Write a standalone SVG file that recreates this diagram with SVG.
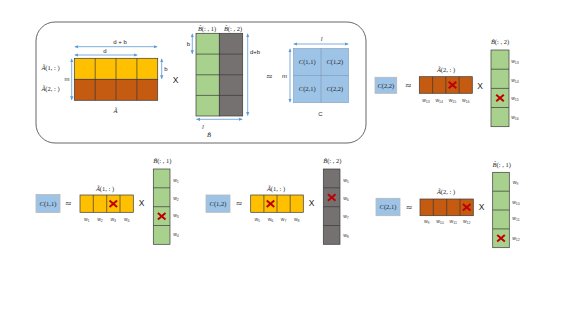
<svg xmlns="http://www.w3.org/2000/svg" width="563" height="317" viewBox="0 0 563 317">
<style>
.bg{fill:#ffffff}
.panel{fill:none;stroke:#404040;stroke-width:0.8}
.y{fill:#FFC000;stroke:#3a3a3a;stroke-width:0.7}
.o{fill:#C55A11;stroke:#3a3a3a;stroke-width:0.7}
.g{fill:#A9D18E;stroke:#3a3a3a;stroke-width:0.7}
.k{fill:#767171;stroke:#3a3a3a;stroke-width:0.7}
.c{fill:#9DC3E6;stroke:#8aa0b8;stroke-width:0.6}
.cb{fill:#9DC3E6;stroke:#b8b8b8;stroke-width:0.8}
.ln{stroke:#3a3a3a;stroke-width:0.7;fill:none}
.lnc{stroke:#7f95ad;stroke-width:0.6;fill:none}
.dim{stroke:#5B9BD5;stroke-width:0.8;fill:none;marker-start:url(#ah);marker-end:url(#ah)}
.s{font-family:"Liberation Sans",Arial,sans-serif;font-size:6px;fill:#262626;text-anchor:middle}
.m{font-family:"Liberation Serif","Times New Roman",serif;font-size:6.5px;fill:#262626;text-anchor:middle}
.mi{font-style:italic}
.w{font-family:"Liberation Sans",Arial,sans-serif;font-size:5px;fill:#404040;text-anchor:middle}
.ws{font-size:3.6px}
.op{font-family:"Liberation Sans",Arial,sans-serif;font-size:8.5px;fill:#262626;text-anchor:middle}
.ap{font-family:"DejaVu Sans",sans-serif;font-size:8px;fill:#262626;text-anchor:middle}
.x{stroke:#C00000;stroke-width:2;fill:none;stroke-linecap:butt}
</style>
<defs>
<marker id="ah" viewBox="0 0 6 6" refX="5.5" refY="3" markerWidth="4" markerHeight="4" orient="auto-start-reverse" markerUnits="userSpaceOnUse">
<path d="M0,0.5 L6,3 L0,5.5 z" fill="#5B9BD5"/>
</marker>
<path id="cross" class="x" d="M-3.8,-3.3 L3.8,3.3 M-3.8,3.3 L3.8,-3.3"/>
</defs>
<rect class="bg" x="0" y="0" width="563" height="317"/>

<g id="panel">
<rect class="panel" x="36" y="22" width="330" height="121" rx="19" ry="19"/>
</g>

<g id="matrixA">
<rect class="y" x="74.3" y="58.3" width="83.4" height="21"/>
<rect class="o" x="74.3" y="79.3" width="83.4" height="21"/>
<path class="ln" d="M95.2,58.3V100.3M116,58.3V100.3M136.9,58.3V100.3"/>
<text class="m" x="50.5" y="70"><tspan class="mi">Ã</tspan>(1, : )</text>
<text class="m" x="50.5" y="90.5"><tspan class="mi">Ã</tspan>(2, : )</text>
<text class="s" x="67" y="81">m</text>
<text class="s" x="120" y="43.5">d + b</text>
<text class="s" x="105" y="52.5">d</text>
<text class="s" x="166" y="71">b</text>
<text class="m" x="115.5" y="113" font-size="7.5"><tspan class="mi">Ã</tspan></text>
</g>

<g id="opX1"><text class="op" x="175.7" y="83.3">X</text></g>

<g id="matrixB">
<rect class="g" x="196" y="33.3" width="23.3" height="82.7"/>
<rect class="k" x="219.3" y="33.3" width="23.4" height="82.7"/>
<path class="ln" d="M196,54.1H242.7M196,74.8H242.7M196,95.4H242.7"/>
<text class="m" x="207" y="30.5"><tspan class="mi">B̃</tspan>(: , 1)</text>
<text class="m" x="233" y="30.5"><tspan class="mi">B̃</tspan>(: , 2)</text>
<text class="s" x="188.5" y="46">b</text>
<text class="s" x="255" y="54">d+b</text>
<text class="m" x="203" y="128.5"><tspan class="mi">l</tspan></text>
<text class="m" x="209" y="137" font-size="7.5"><tspan class="mi">B̃</tspan></text>
</g>

<g id="opApprox"><text class="ap" x="269.3" y="78.5" font-size="11">≈</text></g>

<g id="matrixC">
<rect class="c" x="293.3" y="48.3" width="55.4" height="54.4"/>
<path class="lnc" d="M321,48.3V102.7M293.3,75.5H348.7"/>
<text class="m" x="307.2" y="64.2"><tspan class="mi">C</tspan>(1,1)</text>
<text class="m" x="334.9" y="64.2"><tspan class="mi">C</tspan>(1,2)</text>
<text class="m" x="307.2" y="91.3"><tspan class="mi">C</tspan>(2,1)</text>
<text class="m" x="334.9" y="91.3"><tspan class="mi">C</tspan>(2,2)</text>
<text class="s" x="284.5" y="78">m</text>
<text class="m" x="321.7" y="40.5"><tspan class="mi">l</tspan></text>
<text class="s" x="320.5" y="116" font-size="7.5">C</text>
</g>

<!-- C(2,2) panel -->
<g id="eqC22">
<rect class="cb" x="375" y="77.3" width="21.7" height="16"/>
<text class="m" x="385.8" y="87.7" font-size="6"><tspan class="mi">C</tspan>(2,2)</text>
<text class="ap" x="408.3" y="88.3">≈</text>
<rect class="o" x="419.3" y="76.7" width="53" height="16.6"/>
<path class="ln" d="M432.6,76.7V93.3M445.8,76.7V93.3M459.1,76.7V93.3"/>
<use href="#cross" x="452.5" y="85"/>
<text class="m" x="446" y="71.5" font-size="6"><tspan class="mi">Ã</tspan>(2, : )</text>
<text class="w" x="426" y="102">w<tspan class="ws" dy="1">13</tspan></text>
<text class="w" x="439.2" y="102">w<tspan class="ws" dy="1">14</tspan></text>
<text class="w" x="452.5" y="102">w<tspan class="ws" dy="1">15</tspan></text>
<text class="w" x="465.8" y="102">w<tspan class="ws" dy="1">16</tspan></text>
<text class="op" x="480" y="88.5">X</text>
<rect class="g" x="491" y="50" width="18" height="76.7"/>
<path class="ln" d="M491,69.2H509M491,88.4H509M491,107.5H509"/>
<use href="#cross" x="500" y="98"/>
<text class="m" x="500" y="44" font-size="6"><tspan class="mi">B̃</tspan>(: , 2)</text>
<text class="w" x="515" y="62.5">w<tspan class="ws" dy="1">13</tspan></text>
<text class="w" x="515" y="81.5">w<tspan class="ws" dy="1">14</tspan></text>
<text class="w" x="515" y="99.5">w<tspan class="ws" dy="1">15</tspan></text>
<text class="w" x="515" y="118.5">w<tspan class="ws" dy="1">16</tspan></text>
</g>

<!-- C(1,1) panel -->
<g id="eqC11">
<rect class="cb" x="36" y="194.5" width="24" height="18"/>
<text class="m" x="48" y="205.5" font-size="6"><tspan class="mi">C</tspan>(1,1)</text>
<text class="ap" x="68.3" y="206">≈</text>
<rect class="y" x="80" y="195" width="53.3" height="17.3"/>
<path class="ln" d="M93.3,195V212.3M106.7,195V212.3M120,195V212.3"/>
<use href="#cross" x="113.3" y="203.7"/>
<text class="m" x="105" y="190.5" font-size="6"><tspan class="mi">Ã</tspan>(1, : )</text>
<text class="w" x="86.7" y="221">w<tspan class="ws" dy="1">1</tspan></text>
<text class="w" x="100" y="221">w<tspan class="ws" dy="1">2</tspan></text>
<text class="w" x="113.3" y="221">w<tspan class="ws" dy="1">3</tspan></text>
<text class="w" x="126.7" y="221">w<tspan class="ws" dy="1">4</tspan></text>
<text class="op" x="141.7" y="206.3">X</text>
<rect class="g" x="153.3" y="169" width="16.7" height="75.3"/>
<path class="ln" d="M153.3,187.8H170M153.3,206.7H170M153.3,225.5H170"/>
<use href="#cross" x="161.7" y="216.2"/>
<text class="m" x="162.3" y="163" font-size="6"><tspan class="mi">B̃</tspan>(: , 1)</text>
<text class="w" x="176" y="181.5">w<tspan class="ws" dy="1">1</tspan></text>
<text class="w" x="176" y="200">w<tspan class="ws" dy="1">2</tspan></text>
<text class="w" x="176" y="217">w<tspan class="ws" dy="1">3</tspan></text>
<text class="w" x="176" y="235.5">w<tspan class="ws" dy="1">4</tspan></text>
</g>

<!-- C(1,2) panel -->
<g id="eqC12">
<rect class="cb" x="206" y="195" width="24" height="17.3"/>
<text class="m" x="218" y="205.8" font-size="6"><tspan class="mi">C</tspan>(1,2)</text>
<text class="ap" x="239" y="206">≈</text>
<rect class="y" x="250.7" y="195" width="52.6" height="17.3"/>
<path class="ln" d="M263.9,195V212.3M277,195V212.3M290.2,195V212.3"/>
<use href="#cross" x="270.5" y="203.7"/>
<text class="m" x="276" y="190.5" font-size="6"><tspan class="mi">Ã</tspan>(1, : )</text>
<text class="w" x="257.3" y="221">w<tspan class="ws" dy="1">5</tspan></text>
<text class="w" x="270.5" y="221">w<tspan class="ws" dy="1">6</tspan></text>
<text class="w" x="283.6" y="221">w<tspan class="ws" dy="1">7</tspan></text>
<text class="w" x="296.8" y="221">w<tspan class="ws" dy="1">8</tspan></text>
<text class="op" x="311.7" y="206.3">X</text>
<rect class="k" x="323.3" y="169" width="16.7" height="75.3"/>
<path class="ln" d="M323.3,187.8H340M323.3,206.7H340M323.3,225.5H340"/>
<use href="#cross" x="331.7" y="197.5"/>
<text class="m" x="332.3" y="163" font-size="6"><tspan class="mi">B̃</tspan>(: , 2)</text>
<text class="w" x="346" y="181.5">w<tspan class="ws" dy="1">5</tspan></text>
<text class="w" x="346" y="200">w<tspan class="ws" dy="1">6</tspan></text>
<text class="w" x="346" y="217.5">w<tspan class="ws" dy="1">7</tspan></text>
<text class="w" x="346" y="236.5">w<tspan class="ws" dy="1">8</tspan></text>
</g>

<!-- C(2,1) panel -->
<g id="eqC21">
<rect class="cb" x="376" y="198.3" width="24" height="17.4"/>
<text class="m" x="388" y="209.2" font-size="6"><tspan class="mi">C</tspan>(2,1)</text>
<text class="ap" x="409" y="210">≈</text>
<rect class="o" x="420" y="199" width="53.3" height="16.7"/>
<path class="ln" d="M433.3,199V215.7M446.7,199V215.7M460,199V215.7"/>
<use href="#cross" x="466.7" y="207.3"/>
<text class="m" x="446" y="194" font-size="6"><tspan class="mi">Ã</tspan>(2, : )</text>
<text class="w" x="426.7" y="223">w<tspan class="ws" dy="1">9</tspan></text>
<text class="w" x="440" y="223">w<tspan class="ws" dy="1">10</tspan></text>
<text class="w" x="453.3" y="223">w<tspan class="ws" dy="1">11</tspan></text>
<text class="w" x="466.7" y="223">w<tspan class="ws" dy="1">12</tspan></text>
<text class="op" x="481.7" y="210.3">X</text>
<rect class="g" x="492.7" y="172.3" width="16.6" height="75.4"/>
<path class="ln" d="M492.7,191.2H509.3M492.7,210H509.3M492.7,228.9H509.3"/>
<use href="#cross" x="501" y="238.3"/>
<text class="m" x="501.7" y="166.5" font-size="6"><tspan class="mi">B̃</tspan>(: , 1)</text>
<text class="w" x="515.5" y="184">w<tspan class="ws" dy="1">9</tspan></text>
<text class="w" x="516" y="203.5">w<tspan class="ws" dy="1">10</tspan></text>
<text class="w" x="516" y="220">w<tspan class="ws" dy="1">11</tspan></text>
<text class="w" x="516" y="239.5">w<tspan class="ws" dy="1">12</tspan></text>
</g>

<g id="connectors">
<line class="dim" x1="74.8" y1="46.7" x2="157.2" y2="46.7"/>
<line class="dim" x1="74.8" y1="55" x2="137.2" y2="55"/>
<line class="dim" x1="161.7" y1="58.8" x2="161.7" y2="78.8"/>
<line class="dim" x1="71.7" y1="58.8" x2="71.7" y2="99.8"/>
<line class="dim" x1="192.3" y1="33.8" x2="192.3" y2="53.8"/>
<line class="dim" x1="247.7" y1="33.8" x2="247.7" y2="115.5"/>
<line class="dim" x1="196.5" y1="119.3" x2="242.2" y2="119.3"/>
<line class="dim" x1="293.8" y1="44" x2="348.2" y2="44"/>
<line class="dim" x1="290" y1="48.8" x2="290" y2="102.2"/>
</g>
</svg>
